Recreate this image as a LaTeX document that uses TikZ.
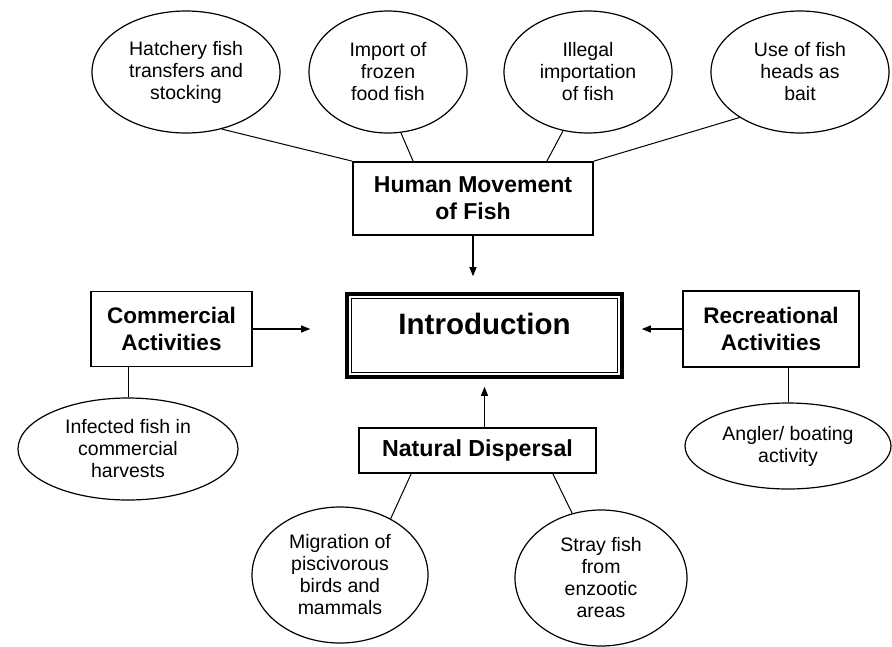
\documentclass[tikz,border=0pt]{standalone}
\usepackage{fontspec}
\setmainfont{Liberation Sans}
\usetikzlibrary{shapes.geometric,arrows.meta,calc}

\begin{document}
\begin{tikzpicture}[x=1pt, y=-1pt,
	cause/.style={ellipse, draw, line width=1.2pt, inner sep=0pt, align=center, font=\fontsize{19.5}{22}\selectfont},
	factor/.style={rectangle, draw, line width=1.8pt, inner sep=0pt, align=center, font=\fontsize{22.5}{27}\selectfont\bfseries},
	link/.style={line width=1pt},
	arr/.style={line width=1.2pt, -{Triangle[length=9pt,width=7pt]}}]
			\useasboundingbox (0,0) rectangle (892,646);
			\node[cause, minimum width=188pt, minimum height=122pt] (hatch) at (186,72) {Hatchery fish\\transfers and\\stocking};
			\node[cause, minimum width=158pt, minimum height=122pt] (frozen) at (388,72) {Import of\\frozen\\food fish};
			\node[cause, minimum width=168pt, minimum height=122pt] (illegal) at (588,72) {Illegal\\importation\\of fish};
			\node[cause, minimum width=178pt, minimum height=122pt] (bait) at (800,72) {Use of fish\\heads as\\bait};
			\node[factor, minimum width=240pt, minimum height=73pt, font=\fontsize{23}{27}\selectfont\bfseries] (human) at (473,198.5) {Human Movement\\of Fish};
			\node[rectangle, draw, line width=3.6pt, minimum width=275pt, minimum height=83pt, font=\fontsize{29.5}{34}\selectfont\bfseries] (intro) at (484.5,335.5) {\raisebox{12pt}[\height][\depth]{Introduction}};
			\draw[line width=0.8pt] ($(intro.north west)+(6,6)$) rectangle ($(intro.south east)+(-6,-6)$);
			\node[factor, minimum width=161pt, minimum height=75pt] (comm) at (171.5,329) {Commercial\\Activities};
			\node[factor, minimum width=176pt, minimum height=76pt] (recr) at (771,329) {Recreational\\Activities};
			\node[factor, minimum width=237pt, minimum height=45pt, font=\fontsize{23.2}{27}\selectfont\bfseries] (natural) at (477.5,450.5) {Natural Dispersal};
			\node[cause, minimum width=220pt, minimum height=102pt] (harvest) at (128,449) {Infected fish in\\commercial\\harvests};
			\node[cause, minimum width=206pt, minimum height=86pt] (angler) at (788,446) {Angler/ boating\\activity};
			\node[cause, minimum width=176pt, minimum height=136pt] (birds) at (340,575) {Migration of\\piscivorous\\birds and\\mammals};
			\node[cause, minimum width=172pt, minimum height=136pt] (stray) at (601,578) {Stray fish\\from\\enzootic\\areas};
			\draw[link] (hatch.-58) -- (human.north west);
			\draw[link] (frozen.-78) -- ($(human.north west)+(61,0)$);
			\draw[link] (illegal.-113) -- ($(human.north east)+(-47,0)$);
			\draw[link] (bait.-143) -- (human.north east);
			\draw[link] (harvest.north) -- (harvest.north |- comm.south);
			\draw[link] (angler.north) -- (angler.north |- recr.south);
			\draw[link] ($(natural.south west)+(53,0)$) -- (birds.48);
			\draw[link] ($(natural.south east)+(-44,0)$) -- (stray.114);
			\draw[arr, shorten >=16pt] (human.south) -- (human.south |- intro.north);
			\draw[arr, shorten >=35pt] (comm.east) -- (comm.east -| intro.west);
			\draw[arr, shorten >=18pt] (recr.west) -- (recr.west -| intro.east);
			\draw[arr, shorten >=8pt] (intro.south |- natural.north) -- (intro.south);
	\end{tikzpicture}
\end{document}
